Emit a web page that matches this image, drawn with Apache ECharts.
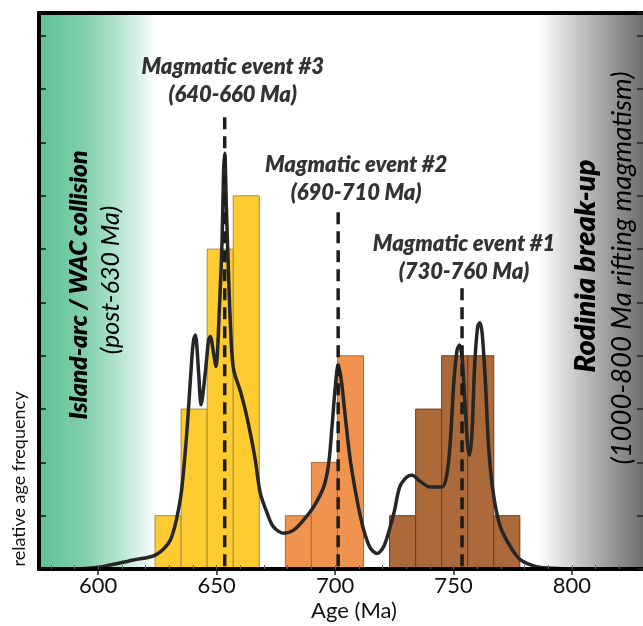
<!DOCTYPE html>
<html><head><meta charset="utf-8">
<script src="https://cdn.jsdelivr.net/npm/echarts@6/dist/echarts.min.js"></script>
<style>html,body{margin:0;padding:0;background:#fff}#c{width:643px;height:626px}</style>
</head><body><div id="c"></div>
<script>
// ---- data ----
const xTickLabels = [600, 650, 700, 750, 800];
const xMinorTicks = [580, 590, 600, 610, 620, 630, 640, 650, 660, 670, 680, 690, 700, 710, 720, 730, 740, 750, 760, 770, 780, 790, 800, 810, 820];
const binWidth = 11;
const event3BinStarts = [624, 635, 646, 657];
const event3Counts = [1, 3, 6, 7];
const event2BinStarts = [679, 690, 701];
const event2Counts = [1, 2, 4];
const event1BinStarts = [723, 734, 745, 756, 767];
const event1Counts = [1, 3, 4, 4, 1];
const kdeAges = [590, 600.9, 614.9, 624.1, 630.4, 634.6, 636.8, 638.1, 639.6, 640.3, 641.0, 642.4, 643.4, 645.2, 646.6, 647.3, 648.7, 649.7, 651.2, 652.3, 652.9, 653.4, 654.1, 655.0, 656.1, 657.2, 660.0, 662.1, 664.2, 666.3, 668.4, 671.3, 674.0, 678.3, 682.5, 686.7, 691.0, 695.2, 697.3, 698.7, 700.1, 701.3, 702.6, 704.3, 706.4, 709.3, 712.1, 714.9, 717.7, 720.5, 722.5, 725.0, 727.3, 730.4, 732.5, 736.0, 740.2, 745.2, 747.3, 748.7, 750.1, 751.5, 752.5, 753.6, 755.0, 756.0, 756.8, 757.8, 758.9, 760.2, 761.1, 762.1, 763.5, 764.9, 767.0, 769.8, 774.0, 778.3, 783.9, 789.5, 800];
const kdeValues = [0.0, 0.04, 0.17, 0.26, 0.54, 1.29, 2.23, 3.0, 4.0, 4.30, 4.39, 3.68, 3.08, 3.68, 4.30, 4.36, 4.05, 3.80, 4.92, 6.17, 7.43, 7.80, 6.80, 5.55, 4.30, 3.73, 3.34, 2.98, 2.55, 2.05, 1.43, 1.05, 0.79, 0.67, 0.73, 0.92, 1.17, 1.54, 1.98, 2.67, 3.42, 3.83, 3.55, 2.86, 2.05, 1.29, 0.73, 0.39, 0.29, 0.42, 0.67, 1.08, 1.54, 1.73, 1.76, 1.64, 1.54, 1.54, 1.80, 2.42, 3.48, 4.11, 4.20, 3.98, 2.98, 2.29, 2.14, 2.55, 3.80, 4.55, 4.62, 4.42, 3.48, 2.23, 1.36, 0.79, 0.42, 0.17, 0.06, 0.02, 0.0];
const eventNames = ['Magmatic event #3', 'Magmatic event #2', 'Magmatic event #1'];
const eventRanges = ['(640-660 Ma)', '(690-710 Ma)', '(730-760 Ma)'];
const eventAges = [653.4, 701.3, 753.6];
const eventLineTops = [8.55, 6.70, 5.27];
const leftZone = [575, 625];
const rightZone = [786, 830];
const leftZoneTitle = 'Island-arc / WAC collision';
const leftZoneSub = '(post-630 Ma)';
const rightZoneTitle = 'Rodinia break-up';
const rightZoneSub = '(1000-800 Ma rifting magmatism)';
const xName = 'Age (Ma)';
const yName = 'relative age frequency';

// ---- chart ----
const FONT = 'Lato';
const chart = echarts.init(document.getElementById('c'), null, {renderer: 'canvas'});

function binSeries(starts, counts, fill, stroke) {
  return {
    type: 'custom', z: 2, xAxisIndex: 0, yAxisIndex: 0,
    data: starts.map((s, i) => [s, s + binWidth, counts[i]]),
    encode: {x: [0, 1], y: 2},
    renderItem(params, api) {
      const p0 = api.coord([api.value(0), api.value(2)]);
      const p1 = api.coord([api.value(1), 0]);
      return {type: 'rect', shape: {x: p0[0], y: p0[1], width: p1[0] - p0[0], height: p1[1] - p0[1]},
        style: {fill: fill, stroke: stroke, lineWidth: 1}};
    }
  };
}

const labelOffsets = [[8, 0], [18, 0], [2, 0]];
const labelDist = [4, 4, 2];

const series = [
  {
    type: 'line', data: [], z: 0,
    markArea: {
      silent: true,
      data: [
        [{xAxis: leftZone[0], yAxis: 0, itemStyle: {color: {type: 'linear', x: 0, y: 0, x2: 1, y2: 0,
          colorStops: [{offset: 0, color: '#5ec295'}, {offset: 0.4, color: '#82d0ab'}, {offset: 0.75, color: '#c4eadb'}, {offset: 1, color: '#ffffff'}]}}},
         {xAxis: leftZone[1], yAxis: 10.43}],
        [{xAxis: rightZone[0], yAxis: 0, itemStyle: {color: {type: 'linear', x: 0, y: 0, x2: 1, y2: 0,
          colorStops: [{offset: 0, color: '#ffffff'}, {offset: 0.5, color: '#b4b4b4'}, {offset: 1, color: '#6e6e6e'}]}}},
         {xAxis: rightZone[1], yAxis: 10.43}]
      ]
    }
  },
  binSeries(event3BinStarts, event3Counts, '#fecb30', '#a88e3a'),
  binSeries(event2BinStarts, event2Counts, '#ef934f', '#b26a3b'),
  binSeries(event1BinStarts, event1Counts, '#ac693a', '#6b4022'),
  {
    type: 'line', z: 3, smooth: 0.3, symbol: 'none',
    data: kdeAges.map((a, i) => [a, kdeValues[i]]),
    lineStyle: {color: '#262626', width: 3.5}
  }
];
eventAges.forEach((age, i) => {
  series.push({
    type: 'line', z: 4, symbol: 'none',
    data: [[age, 0.05], [age, eventLineTops[i]]],
    lineStyle: {color: '#1c1c1c', width: 3.5, type: [12, 7]}
  });
  series.push({
    type: 'scatter', z: 5, symbolSize: 1, itemStyle: {color: 'rgba(0,0,0,0)'},
    data: [[age, eventLineTops[i]]],
    label: {
      show: true, position: 'top', distance: labelDist[i], offset: labelOffsets[i],
      formatter: eventNames[i] + '\n' + eventRanges[i],
      fontFamily: FONT, fontSize: 22, fontWeight: 800, fontStyle: 'italic',
      color: '#000', lineHeight: 28, align: 'center'
    }
  });
});

function vtext(text, x, y, size, weight) {
  return {type: 'text', x: x, y: y, rotation: Math.PI / 2, z: 10,
    style: {text: text, font: 'italic ' + weight + ' ' + size + 'px ' + FONT, fill: '#000',
      textAlign: 'center', textVerticalAlign: 'middle'}};
}

chart.setOption({
  animation: false,
  textStyle: {fontFamily: FONT},
  grid: {left: 39, right: 0, top: 13, bottom: 57, containLabel: false},
  xAxis: [
    {type: 'value', min: 575, max: 830, position: 'bottom', z: 10,
     axisLine: {show: true, lineStyle: {color: '#000', width: 4}},
     axisTick: {show: true, length: 6, lineStyle: {color: '#222', width: 1.5}, customValues: xTickLabels},
     axisLabel: {show: true, customValues: xTickLabels, fontFamily: FONT, fontSize: 22, color: '#111', margin: 6},
     splitLine: {show: false}},
    {type: 'value', min: 575, max: 830, position: 'bottom', z: 10,
     axisLine: {show: false},
     axisTick: {show: true, inside: true, length: 4, lineStyle: {color: '#666', width: 1}, customValues: xMinorTicks},
     axisLabel: {show: false}, splitLine: {show: false}},
    {type: 'value', min: 575, max: 830, position: 'top', z: 10,
     axisLine: {show: true, lineStyle: {color: '#000', width: 4}},
     axisTick: {show: false}, axisLabel: {show: false}, splitLine: {show: false}}
  ],
  yAxis: [
    {type: 'value', min: 0, max: 10.43, interval: 1, position: 'left', z: 10,
     axisLine: {show: true, lineStyle: {color: '#000', width: 4}},
     axisTick: {show: true, inside: true, length: 7, lineStyle: {color: '#111', width: 1.5}},
     axisLabel: {show: false}, splitLine: {show: false}},
    {type: 'value', min: 0, max: 10.43, interval: 1, position: 'right', z: 10,
     axisLine: {show: false},
     axisTick: {show: true, inside: true, length: 6, lineStyle: {color: '#222', width: 1.5}},
     axisLabel: {show: false}, splitLine: {show: false}}
  ],
  series: series,
  graphic: [
    vtext(leftZoneTitle, 79, 285, 24.5, 800),
    vtext(leftZoneSub, 111, 280, 25, 'normal'),
    vtext(rightZoneTitle, 586, 266, 29, 800),
    vtext(rightZoneSub, 622, 268, 27.5, 'normal'),
    {type: 'text', x: 19, y: 479, rotation: Math.PI / 2, z: 10,
     style: {text: yName, font: 'normal 18px ' + FONT, fill: '#111', textAlign: 'center', textVerticalAlign: 'middle'}},
    {type: 'text', x: 354, y: 611, z: 10,
     style: {text: xName, font: 'normal 22px ' + FONT, fill: '#111', textAlign: 'center', textVerticalAlign: 'middle'}}
  ]
});
</script>
</body></html>
